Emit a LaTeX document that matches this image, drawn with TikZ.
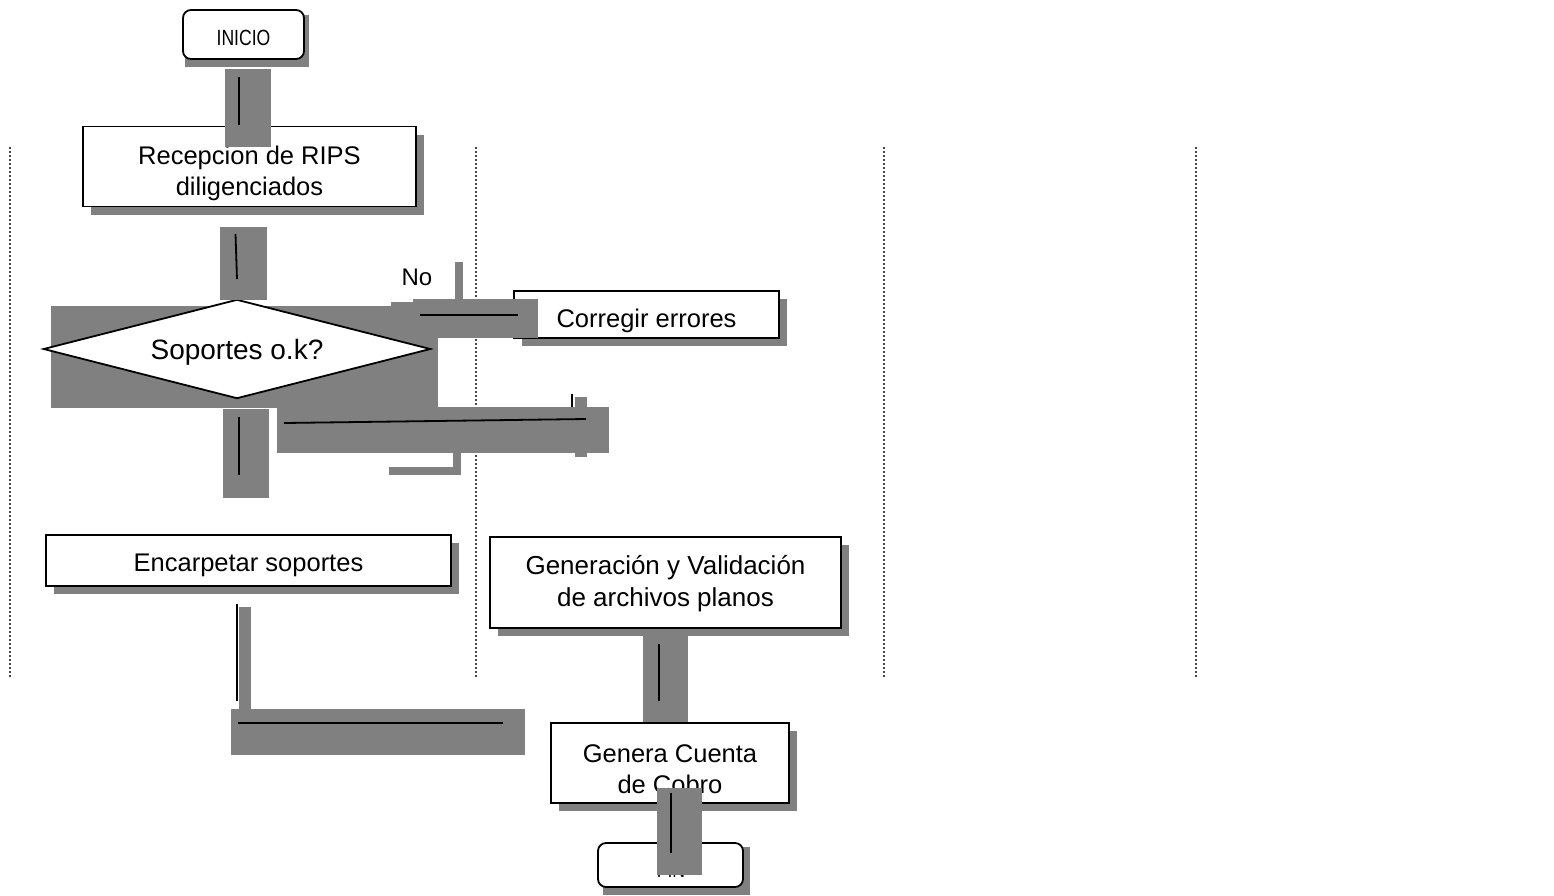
\documentclass[tikz,border=0pt]{standalone}
\usepackage{fontspec}
\setmainfont{Liberation Sans}
\usetikzlibrary{shadows}

\tikzset{
  lbl/.style={font=\fontsize{25.5}{31}\selectfont, align=center, inner sep=0pt},
  box/.style={draw, line width=1.8pt, fill=white, inner sep=0pt,
    general shadow={fill=gray, shadow xshift=8pt, shadow yshift=-8pt}},
  term/.style={draw, line width=1.8pt, fill=white, rounded corners=8pt, inner sep=0pt},
  termtxt/.style={font=\fontsize{22}{26}\selectfont, inner sep=0pt},
  outline/.style={draw, line width=1.8pt, fill=white, line join=miter},
  band/.style={fill=gray},
  wire/.style={line width=1.8pt, line cap=butt},
  lane/.style={line width=1.6pt, gray!55!black, dash pattern=on 2pt off 2pt},
}

\begin{document}
\begin{tikzpicture}[x=1pt,y=-1pt]
\useasboundingbox (0,0) rectangle (1554,895);

% swimlane separators
\foreach \lx/\nm in {10/la,476/lb,884/lc,1196/ld}{
  \coordinate (\nm top) at (\lx,147);
  \coordinate (\nm bot) at (\lx,677);
  \draw[lane] (\nm top) -- (\nm bot);
}

% terminal shadows
\fill[band] (185,15) rectangle (309,67);
\fill[band] (603,847) rectangle (750,895);

% backing band of the decision
\fill[band] (51,306) rectangle (438,408);

% terminals
\node[term, minimum width=121pt, minimum height=49pt] (ini) at (243.5,34.5) {};
\node[termtxt, anchor=base] (ini-t) at (243.5,45) {\scalebox{0.8}[1]{INICIO}};

\node[term, minimum width=145pt, minimum height=44pt] (fin) at (670.5,865) {};
\node[termtxt, anchor=base] (fin-t) at (671,877) {\scalebox{0.8}[1]{FIN}};

% process steps
\node[box, minimum width=333pt, minimum height=80pt] (rec) at (249.5,166.5) {};
\node[lbl] (rec-t) at (249.5,173.5) {Recepcion de RIPS\\diligenciados};

\node[box, minimum width=265pt, minimum height=47pt] (cor) at (646.5,314.5) {};
\node[lbl] (cor-t) at (646.5,320.5) {Corregir errores};

\node[box, minimum width=405pt, minimum height=51pt] (enc) at (248.5,560.5) {};
\node[lbl] (enc-t) at (248.5,565.5) {Encarpetar soportes};

\node[box, minimum width=351pt, minimum height=91pt] (gen) at (665.5,582.5) {};
\node[lbl, font=\fontsize{26}{32}\selectfont] (gen-t) at (665.5,584) {Generación y Validación\\de archivos planos};

\node[box, minimum width=238pt, minimum height=80pt] (cue) at (670,763) {};
\node[lbl] (cue-t) at (670,769.5) {Genera Cuenta\\de Cobro};

% decision
\node[inner sep=0pt, minimum width=386pt, minimum height=98pt] (dec) at (237,349) {};
\draw[outline] (dec.west) -- (dec.north) -- (dec.east) -- (dec.south) -- cycle;
\node[lbl, font=\fontsize{28}{32}\selectfont] (dec-t) at (237,352) {Soportes o.k?};

\node[font=\fontsize{24}{28}\selectfont, inner sep=0pt] (no) at (417,277) {No};

% connector bands
\fill[band] (225,69) rectangle (271,147);
\fill[band] (220,227) rectangle (267,300);
\fill[band] (391,302) rectangle (413,338);
\fill[band] (413,299) rectangle (538,338);
\fill[band] (455,262) rectangle (463,300);
\fill[band] (223,409) rectangle (269,498);
\fill[band] (277,407) rectangle (609,453);
\fill[band] (575,397) rectangle (587,457);
\fill[band] (389,467) rectangle (461,475);
\fill[band] (453,453) rectangle (461,475);
\fill[band] (239,607) rectangle (251,709);
\fill[band] (231,709) rectangle (525,755);
\fill[band] (643,636) rectangle (688,722);
\fill[band] (657,788) rectangle (702,875);

% connector strokes
\coordinate (w1a) at (239,77);   \coordinate (w1b) at (239,125);
\coordinate (w2a) at (235.5,234); \coordinate (w2b) at (237,279);
\coordinate (w3a) at (420,315);  \coordinate (w3b) at (518,315);
\coordinate (w4a) at (239,417);  \coordinate (w4b) at (239,475);
\coordinate (w5a) at (284,423);  \coordinate (w5b) at (586,419);
\coordinate (w6a) at (572,394);  \coordinate (w6b) at (572,407);
\coordinate (w7a) at (237,604);  \coordinate (w7b) at (237,701);
\coordinate (w8a) at (238,723);  \coordinate (w8b) at (503,723);
\coordinate (w9a) at (659,644);  \coordinate (w9b) at (659,701);
\coordinate (w10a) at (671,793); \coordinate (w10b) at (671,853);
\foreach \w in {1,...,10}{
  \draw[wire] (w\w a) -- (w\w b);
}
\end{tikzpicture}
\end{document}
